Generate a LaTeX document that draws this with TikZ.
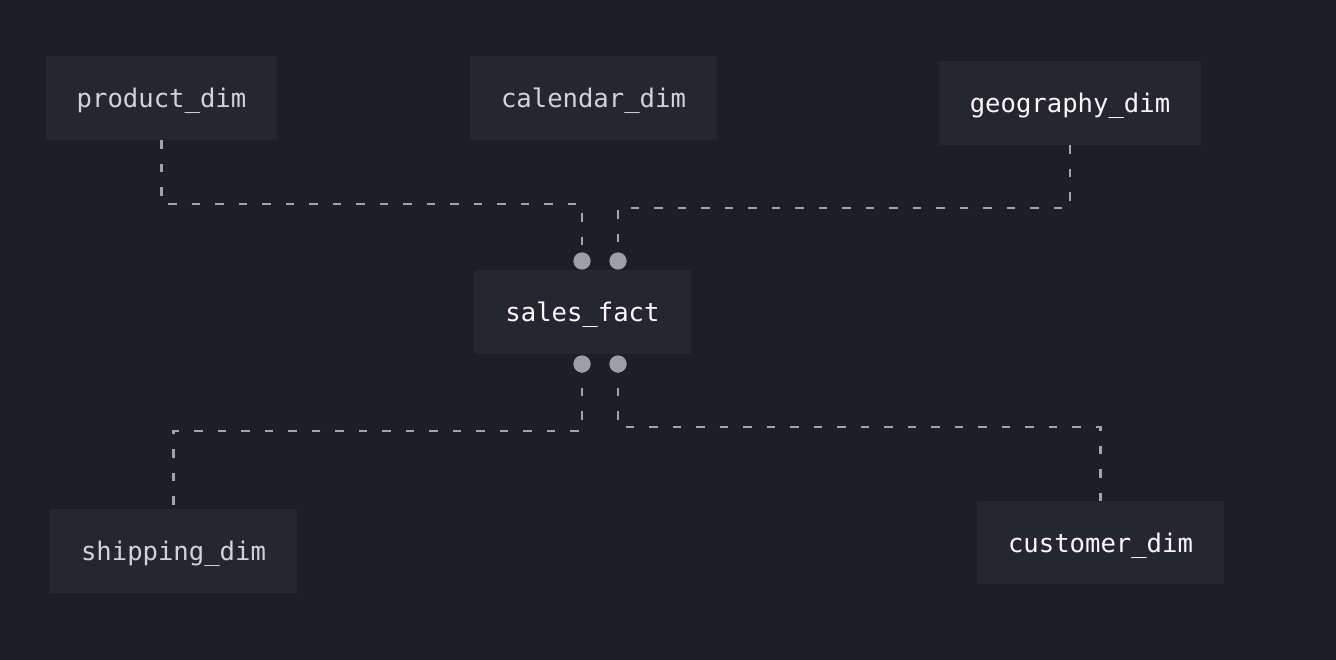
\documentclass[tikz,border=0pt]{standalone}
\usepackage{fontspec}
\setmonofont{DejaVu Sans Mono}
\usetikzlibrary{positioning, calc}
\definecolor{canvas}{HTML}{1E1F24}
\definecolor{boxfill}{HTML}{25262E}
\definecolor{dimtext}{HTML}{D2D3DA}
\definecolor{brighttext}{HTML}{F8F8FC}
\definecolor{linkgray}{HTML}{A2A3AB}
\definecolor{dotgray}{HTML}{9D9EA6}

\begin{document}
\begin{tikzpicture}[
    x=1pt, y=-1pt,
    table/.style={rectangle, fill=boxfill, inner sep=0pt, minimum height=84pt,
                  text depth=0pt, font=\ttfamily\fontsize{25.6}{30}\selectfont, text=dimtext},
    hot/.style={table, text=brighttext},
    link/.style={draw=linkgray, line width=2.2pt, dash pattern=on 8.5pt off 15pt},
    keydot/.style={circle, fill=dotgray, inner sep=0pt, minimum size=17pt}
]
\useasboundingbox[fill=canvas] (0,0) rectangle (1336,660);

% dimension and fact tables
\node[table, minimum width=231pt] (product) at (161.5,98) {product\_dim};
\node[table, minimum width=247pt] (calendar) at (593.5,98) {calendar\_dim};
\node[hot, minimum width=262pt] (geography) at (1070,103) {geography\_dim};
\node[hot, minimum width=217pt] (sales) at (582.5,312) {sales\_fact};
\node[table, minimum width=247pt] (shipping) at (173.5,551) {shipping\_dim};
\node[hot, minimum width=247pt, minimum height=83pt] (customer) at (1100.5,542.5) {customer\_dim};

% key dots on the fact table
\node[keydot] (topL) at (582,261) {};
\node[keydot] (topR) at (618,261) {};
\node[keydot] (botL) at (582,364) {};
\node[keydot] (botR) at (618,364) {};

% bends
\coordinate (prodBend) at (582,204);
\coordinate (geoBend) at (618,208);
\coordinate (shipBend) at (582,431);
\coordinate (custBend) at (618,427);

\draw[link] (product.south) |- (prodBend) -- (topL.center);
\draw[link] (geography.south) |- (geoBend) -- (topR.center);
\draw[link] (botL.center) -- (shipBend) -| (shipping.north);
\draw[link] (botR.center) -- (custBend) -| (customer.north);

% redraw dots over line ends
\foreach \d in {topL, topR, botL, botR}
  \fill[dotgray] (\d) circle (8.5pt);
\end{tikzpicture}
\end{document}
